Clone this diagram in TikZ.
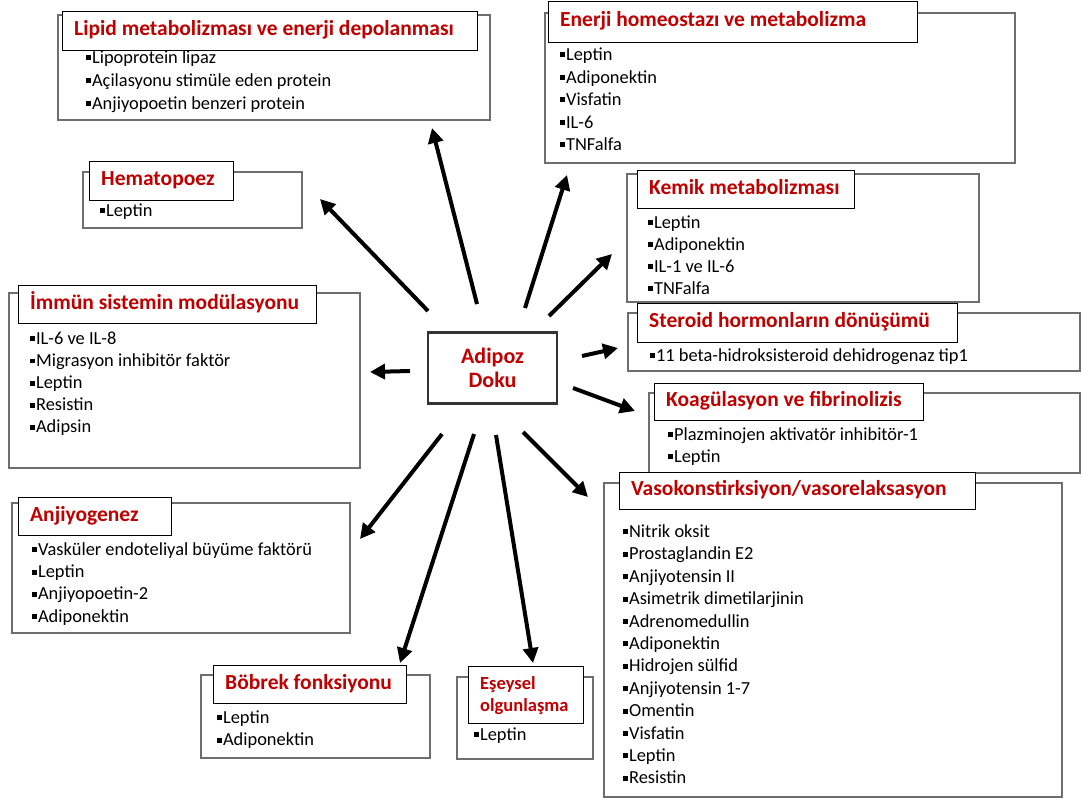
\documentclass[tikz,border=0pt]{standalone}
\usepackage{fontspec}
\setmainfont{Carlito}
\usetikzlibrary{arrows.meta}
\definecolor{titlered}{HTML}{C00000}
\definecolor{framegray}{HTML}{6E6E6E}

\begin{document}
\begin{tikzpicture}[x=1pt,y=-1pt,
 panel/.style={draw=framegray,line width=2pt},
 tframe/.style={draw=black,line width=0.9pt,fill=white},
 ttext/.style={anchor=west,inner sep=0pt,align=left,text=titlered,
  font=\fontsize{21.5}{26}\selectfont\bfseries},
 item/.style={anchor=base west,inner sep=0pt,font=\fontsize{18.4}{22}\selectfont},
 doku/.style={draw=black!80,line width=2.2pt,minimum width=129pt,minimum height=71pt,
  align=center,text=titlered,font=\fontsize{22}{24}\selectfont\bfseries},
 arr/.style={line width=4pt,-{Triangle[length=15pt,width=15pt]}}]

\useasboundingbox (0,0) rectangle (1083,801);

\newcommand{\sqb}{\rule[0.17em]{0.27em}{0.27em}\hspace{0.05em}}
\newcommand{\titlebox}[7][] % [opts][name][left][top][right][bottom][text]
{
 \draw[tframe] (#3,#4) rectangle (#5,#6);
 \node[ttext,#1] (#2) at (#3+12,{(#4+#6)/2}) {\strut#7};
}
\newcommand{\itemlist}[5][22.4] % [sep][name][x][y][items]
{
 \foreach \entry [count=\k] in {#5}
  \node[item] (#2\k) at (#3,{#4+5.5+(\k-1)*#1}) {\sqb\entry};
}

% Lipid
\draw[panel] (58,15) rectangle (490,120);
\titlebox{lipidT}{62}{11}{477}{50}{Lipid metabolizması ve enerji depolanması}
\itemlist[23]{lipid}{86}{58}{Lipoprotein lipaz,Açilasyonu stimüle eden protein,Anjiyopoetin benzeri protein}

% Enerji
\draw[panel] (545,13) rectangle (1015,163);
\titlebox{enerjiT}{548}{1}{917}{42}{Enerji homeostazı ve metabolizma}
\itemlist[22.5]{enerji}{560}{55}{Leptin,Adiponektin,Visfatin,IL-6,TNFalfa}

% Hematopoez
\draw[panel] (83,172) rectangle (302,228);
\titlebox{hemaT}{89}{161}{233}{200}{Hematopoez}
\itemlist{hema}{100}{211}{Leptin}

% Kemik
\draw[panel] (627,174) rectangle (979,302);
\titlebox{kemikT}{637}{170}{854}{208}{Kemik metabolizması}
\itemlist[22]{kemik}{648}{223}{Leptin,Adiponektin,IL-1 ve IL-6,TNFalfa}

% Immun
\draw[panel] (9,293) rectangle (360,468);
\titlebox{immunT}{18}{285}{316}{323}{İmmün sistemin modülasyonu}
\itemlist[22.1]{immun}{30}{339}{IL-6 ve IL-8,Migrasyon inhibitör faktör,Leptin,Resistin,Adipsin}

% Steroid
\draw[panel] (628,313) rectangle (1080,371);
\titlebox{steroidT}{637}{303}{957}{342}{Steroid hormonların dönüşümü}
\itemlist{steroid}{650}{356}{11 beta-hidroksisteroid dehidrogenaz tip1}

% Koagulasyon
\draw[panel] (649,393) rectangle (1080,473);
\titlebox{koagT}{654}{383}{923}{420}{Koagülasyon ve fibrinolizis}
\itemlist[22]{koag}{668}{435}{Plazminojen aktivatör inhibitör-1,Leptin}

% Vaso
\draw[panel] (604,483) rectangle (1062,797);
\titlebox{vasoT}{619}{472}{975}{509}{Vasokonstirksiyon/vasorelaksasyon}
\itemlist{vaso}{623}{532}{Nitrik oksit,Prostaglandin E2,Anjiyotensin II,Asimetrik dimetilarjinin,Adrenomedullin,Adiponektin,Hidrojen sülfid,Anjiyotensin 1-7,Omentin,Visfatin,Leptin,Resistin}

% Anjiyogenez
\draw[panel] (12,503) rectangle (350,633);
\titlebox{anjioT}{18}{497}{171}{535}{Anjiyogenez}
\itemlist[22.2]{anjio}{32}{550}{Vasküler endoteliyal büyüme faktörü,Leptin,Anjiyopoetin-2,Adiponektin}

% Bobrek
\draw[panel] (201,675) rectangle (430,758);
\titlebox{bobrekT}{213}{665}{406}{703}{Böbrek fonksiyonu}
\itemlist{bobrek}{217}{718}{Leptin,Adiponektin}

% Eseysel
\draw[panel] (457,677) rectangle (593,759);
\titlebox[font=\fontsize{18.5}{22}\selectfont\bfseries]{eseyselT}{468}{666}{583}{723}{Eşeysel\\olgunlaşma}
\itemlist{eseysel}{474}{735}{Leptin}

% center
\node[doku] (doku) at (492.5,368) {Adipoz\\Doku};

% arrows
\foreach \xa/\ya/\xb/\yb [count=\k] in {477/304/432/128, 428/311/320/199,
  525/308/567/175, 549/316/612/254, 582/356/618/348, 573/388/635/411,
  523/432/588/497, 496/435/533/663, 474/434/400/663, 442/434/360/539,
  410/371/370/372}
{
 \coordinate (s\k) at (\xa,\ya);
 \coordinate (e\k) at (\xb,\yb);
 \draw[arr] (s\k) -- (e\k);
}

\end{tikzpicture}
\end{document}
